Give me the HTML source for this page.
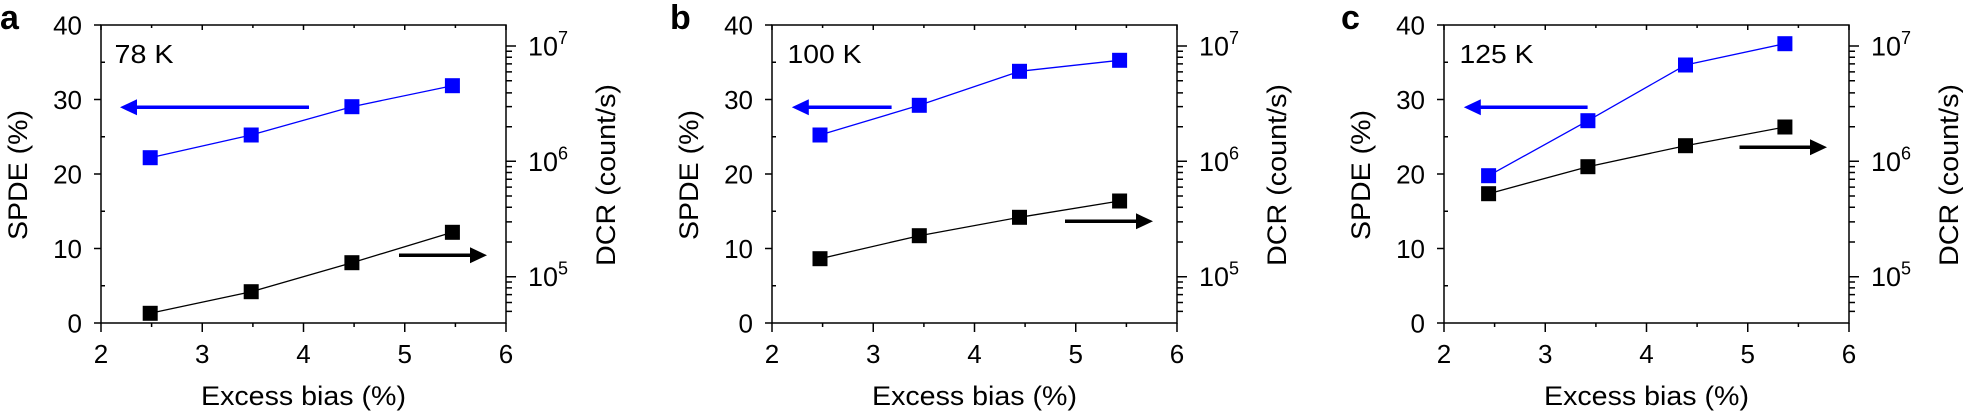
<!DOCTYPE html>
<html><head><meta charset="utf-8"><style>
html,body{margin:0;padding:0;background:#fff;}
svg{display:block;font-family:"Liberation Sans",Arial,sans-serif;}
</style></head><body>
<svg width="1963" height="413" viewBox="0 0 1963 413" xmlns="http://www.w3.org/2000/svg">
<defs>
<g id="axes" fill="none" stroke="#000" stroke-width="1.5">
<rect x="0" y="0" width="405" height="298"/>
<path d="M0 0H-7M0 74.5H-7M0 149H-7M0 223.5H-7M0 298H-7M0 37.25H4M0 111.75H4M0 186.25H4M0 260.75H4"/>
<path d="M0 0V5M101.25 0V5M202.5 0V5M303.75 0V5M405 0V5M50.6 0V3M151.9 0V3M253.1 0V3M354.4 0V3"/>
<path d="M0 298V307M101.25 298V307M202.5 298V307M303.75 298V307M405 298V307M50.6 298V302M151.9 298V302M253.1 298V302M354.4 298V302"/>
<path d="M405 21H415M405 136.3H415M405 251.7H415"/>
<path d="M405 26.3H411M405 32.2H411M405 38.9H411M405 46.9H411M405 55.7H411M405 67.9H411M405 81.6H411M405 101.7H411M405 141.6H411M405 147.5H411M405 154.2H411M405 162.1H411M405 171H411M405 182.2H411M405 196.9H411M405 217H411M405 257H411M405 262.9H411M405 269.6H411M405 277.5H411M405 286.4H411"/>
</g>
<g id="labels" font-size="26" fill="#000">
<g text-anchor="end">
<text x="-19" y="9.5">40</text>
<text x="-19" y="84">30</text>
<text x="-19" y="158.5">20</text>
<text x="-19" y="233">10</text>
<text x="-19" y="307.5">0</text>
</g>
<g text-anchor="middle">
<text x="0" y="338">2</text>
<text x="101.25" y="338">3</text>
<text x="202.5" y="338">4</text>
<text x="303.75" y="338">5</text>
<text x="405" y="338">6</text>
</g>
<text x="427" y="30.5" font-size="27" textLength="30" lengthAdjust="spacingAndGlyphs">10</text><text x="457" y="19" font-size="18">7</text>
<text x="427" y="145.8" font-size="27" textLength="30" lengthAdjust="spacingAndGlyphs">10</text><text x="457" y="134.3" font-size="18">6</text>
<text x="427" y="261.2" font-size="27" textLength="30" lengthAdjust="spacingAndGlyphs">10</text><text x="457" y="249.7" font-size="18">5</text>
<text x="100" y="380" font-size="27" textLength="205" lengthAdjust="spacingAndGlyphs">Excess bias (%)</text>
<text transform="translate(-74,215) rotate(-90)" font-size="27" textLength="130" lengthAdjust="spacingAndGlyphs">SPDE (%)</text>
<text transform="translate(514,241) rotate(-90)" font-size="27" textLength="182" lengthAdjust="spacingAndGlyphs">DCR (count/s)</text>
</g>
</defs>

<g font-weight="bold" font-size="34" fill="#000">
<text x="0" y="29">a</text>
<text x="670" y="29">b</text>
<text x="1341" y="29">c</text>
</g>

<!-- Panel a -->
<g transform="translate(101,25)">
<use href="#axes"/><use href="#labels"/>
<text x="13.5" y="38" font-size="26" textLength="59" lengthAdjust="spacingAndGlyphs">78 K</text>
<polyline points="49.2,132.7 150.2,110 250.9,81.7 351.4,60.7" fill="none" stroke="#0000ff" stroke-width="1.3"/>
<polyline points="49.2,288.3 150.2,266.7 250.9,237.7 351.4,207.3" fill="none" stroke="#000" stroke-width="1.3"/>
<g fill="#0000ff"><rect x="41.7" y="125.2" width="15" height="15"/><rect x="142.7" y="102.5" width="15" height="15"/><rect x="243.4" y="74.2" width="15" height="15"/><rect x="343.9" y="53.2" width="15" height="15"/></g>
<g fill="#000"><rect x="41.7" y="280.8" width="15" height="15"/><rect x="142.7" y="259.2" width="15" height="15"/><rect x="243.4" y="230.2" width="15" height="15"/><rect x="343.9" y="199.8" width="15" height="15"/></g>
<line x1="33" y1="82.3" x2="208" y2="82.3" stroke="#0000ff" stroke-width="3.5"/><polygon points="19,82.3 36,74.3 36,90.3" fill="#0000ff"/>
<line x1="298" y1="230.3" x2="372" y2="230.3" stroke="#000" stroke-width="3.5"/><polygon points="386,230.3 369,222.3 369,238.3" fill="#000"/>
</g>

<!-- Panel b -->
<g transform="translate(772,25)">
<use href="#axes"/><use href="#labels"/>
<text x="15.5" y="38" font-size="26" textLength="74" lengthAdjust="spacingAndGlyphs">100 K</text>
<polyline points="48,110 147.3,80.3 247.5,46.3 347.6,35.3" fill="none" stroke="#0000ff" stroke-width="1.3"/>
<polyline points="48,233.7 147.3,210.7 247.5,192.3 347.6,176" fill="none" stroke="#000" stroke-width="1.3"/>
<g fill="#0000ff"><rect x="40.5" y="102.5" width="15" height="15"/><rect x="139.8" y="72.8" width="15" height="15"/><rect x="240" y="38.8" width="15" height="15"/><rect x="340.1" y="27.8" width="15" height="15"/></g>
<g fill="#000"><rect x="40.5" y="226.2" width="15" height="15"/><rect x="139.8" y="203.2" width="15" height="15"/><rect x="240" y="184.8" width="15" height="15"/><rect x="340.1" y="168.5" width="15" height="15"/></g>
<line x1="33" y1="82.3" x2="119.6" y2="82.3" stroke="#0000ff" stroke-width="3.5"/><polygon points="19.8,82.3 36.8,74.3 36.8,90.3" fill="#0000ff"/>
<line x1="293" y1="196.3" x2="367" y2="196.3" stroke="#000" stroke-width="3.5"/><polygon points="381,196.3 364,188.3 364,204.3" fill="#000"/>
</g>

<!-- Panel c -->
<g transform="translate(1444,25)">
<use href="#axes"/><use href="#labels"/>
<text x="15.5" y="38" font-size="26" textLength="74" lengthAdjust="spacingAndGlyphs">125 K</text>
<polyline points="44.6,150.7 143.9,95.7 241.5,40 340.9,18.7" fill="none" stroke="#0000ff" stroke-width="1.3"/>
<polyline points="44.6,168.7 143.9,141.7 241.5,120.7 340.9,102" fill="none" stroke="#000" stroke-width="1.3"/>
<g fill="#0000ff"><rect x="37.1" y="143.2" width="15" height="15"/><rect x="136.4" y="88.2" width="15" height="15"/><rect x="234" y="32.5" width="15" height="15"/><rect x="333.4" y="11.2" width="15" height="15"/></g>
<g fill="#000"><rect x="37.1" y="161.2" width="15" height="15"/><rect x="136.4" y="134.2" width="15" height="15"/><rect x="234" y="113.2" width="15" height="15"/><rect x="333.4" y="94.5" width="15" height="15"/></g>
<line x1="33" y1="82.3" x2="143.6" y2="82.3" stroke="#0000ff" stroke-width="3.5"/><polygon points="19.8,82.3 36.8,74.3 36.8,90.3" fill="#0000ff"/>
<line x1="295.5" y1="122.3" x2="369" y2="122.3" stroke="#000" stroke-width="3.5"/><polygon points="383,122.3 366,114.3 366,130.3" fill="#000"/>
</g>
</svg>
</body></html>
